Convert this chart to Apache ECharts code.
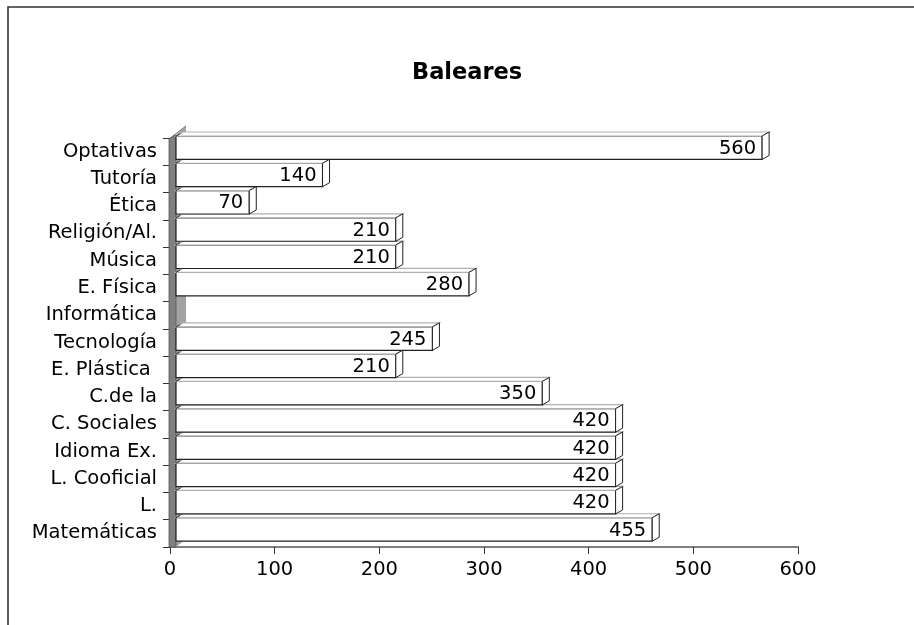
<!DOCTYPE html>
<html>
<head>
<meta charset="utf-8">
<script src="https://cdn.jsdelivr.net/npm/echarts@6/dist/echarts.min.js"></script>
<style>
  html, body { margin: 0; padding: 0; background: #fff; }
  #chart { width: 914px; height: 625px; }
</style>
</head>
<body>
<div id="chart"></div>
<script>
const categories = ['Matemáticas', 'L.', 'L. Cooficial', 'Idioma Ex.', 'C. Sociales', 'C.de la', 'E. Plástica ', 'Tecnología', 'Informática', 'E. Física', 'Música', 'Religión/Al.', 'Ética', 'Tutoría', 'Optativas'];
const hours = [455, 420, 420, 420, 420, 350, 210, 245, 0, 280, 210, 210, 70, 140, 560];
const valueTicks = [0, 100, 200, 300, 400, 500, 600];

const FONT = '"DejaVu Sans", Verdana, sans-serif';
const LABEL_SIZE = 19.5;
const chart = echarts.init(document.getElementById('chart'));

function renderItem(params, api) {
  const val = api.value(0);
  const cat = api.value(1);
  const base = api.coord([0, cat]);
  const end = api.coord([val, cat]);
  const band = api.size([0, 1])[1];
  const dx = 7, dy = 4, shift = 6;
  const x0 = base[0] + shift, x1 = end[0] + shift;
  const top = base[1] - band / 2 - 2;
  const h = band * 0.86;
  const children = [];
  if (params.dataIndex === 0) {
    const bx = base[0];
    const gBottom = base[1] + band / 2;
    const gTop = api.coord([0, categories.length - 1])[1] - band / 2;
    children.push({
      type: 'polygon',
      shape: { points: [[bx + 6, gTop - 3], [bx + 16, gTop - 12], [bx + 16, gBottom - 8], [bx + 6, gBottom]] },
      style: { fill: '#a3a3a3', stroke: null }
    });
    children.push({
      type: 'polyline',
      shape: { points: [[bx - 1, gTop + 1], [bx + 16, gTop - 12]] },
      style: { stroke: '#666', lineWidth: 1, fill: null }
    });
    children.push({
      type: 'polygon',
      shape: { points: [[bx - 1, gBottom], [bx - 1, gTop + 1], [bx + 6, gTop - 3], [bx + 6, gBottom]] },
      style: { fill: '#808080', stroke: '#555', lineWidth: 0.8 }
    });
  }
  if (val > 0) {
    children.push({
      type: 'rect',
      shape: { x: x0, y: top, width: x1 - x0, height: h },
      style: { fill: '#ffffff', stroke: '#222', lineWidth: 1.2 }
    });
    children.push({
      type: 'polygon',
      shape: { points: [[x0, top], [x0 + dx, top - dy], [x1 + dx, top - dy], [x1, top]] },
      style: { fill: '#ffffff', stroke: '#b0b0b0', lineWidth: 1.2 }
    });
    children.push({
      type: 'polyline',
      shape: { points: [[x0, top], [x0 + dx * 0.6, top - dy * 0.6]] },
      style: { stroke: '#333', lineWidth: 1, fill: null }
    });
    children.push({
      type: 'polygon',
      shape: { points: [[x1, top], [x1 + dx, top - dy], [x1 + dx, top + h - dy], [x1, top + h]] },
      style: { fill: '#ffffff', stroke: '#222', lineWidth: 1 }
    });
    children.push({
      type: 'text',
      style: {
        text: String(val), x: x1 - 6, y: top + h / 2 + 1,
        align: 'right', verticalAlign: 'middle',
        font: LABEL_SIZE + 'px ' + FONT, fill: '#000'
      }
    });
  }
  return { type: 'group', children: children };
}

chart.setOption({
  animation: false,
  backgroundColor: '#fff',
  title: {
    text: 'Baleares',
    left: 407,
    top: 57,
    textStyle: { fontFamily: FONT, fontSize: 22.5, fontWeight: 'bold', color: '#000' }
  },
  graphic: [{
    type: 'rect',
    shape: { x: 8, y: 7, width: 1200, height: 1200 },
    style: { fill: null, stroke: '#333', lineWidth: 1.6 },
    silent: true
  }],
  grid: { left: 170, right: 116, top: 138, bottom: 78 },
  xAxis: {
    type: 'value',
    min: valueTicks[0],
    max: valueTicks[valueTicks.length - 1],
    interval: valueTicks[1] - valueTicks[0],
    axisLine: { show: true, lineStyle: { color: '#808080', width: 2 } },
    axisTick: { show: true, length: 7, lineStyle: { color: '#333' } },
    axisLabel: { fontFamily: FONT, fontSize: LABEL_SIZE, color: '#000', margin: 13 },
    splitLine: { show: false }
  },
  yAxis: {
    type: 'category',
    data: categories,
    axisLine: { show: false },
    axisTick: { show: true, length: 7, lineStyle: { color: '#333' } },
    axisLabel: { fontFamily: FONT, fontSize: LABEL_SIZE, color: '#000', margin: 13 },
    splitLine: { show: false }
  },
  series: [{
    type: 'custom',
    renderItem: renderItem,
    encode: { x: 0, y: 1 },
    data: hours.map((v, i) => [v, i]),
    clip: false
  }]
});
</script>
</body>
</html>
